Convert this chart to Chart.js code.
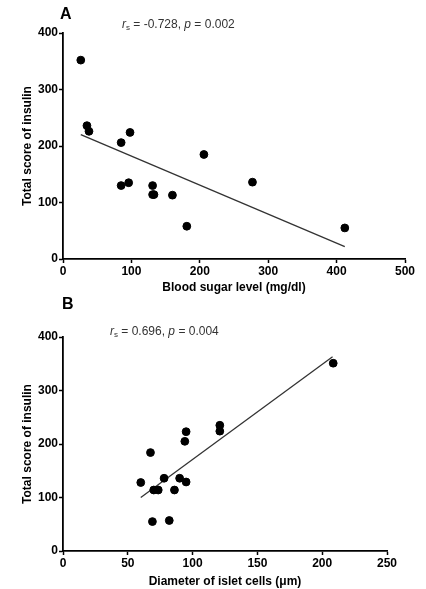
<!DOCTYPE html>
<html>
<head>
<meta charset="utf-8">
<script src="https://cdn.jsdelivr.net/npm/chart.js@4"></script>
<style>
  body { margin: 0; background: #fff; }
  .panel { position: absolute; left: 0; width: 426px; }
  #panelA { top: 0; height: 295px; }
  #panelB { top: 295px; height: 294px; }
</style>
</head>
<body>
<div class="panel" id="panelA"><canvas id="chartA"></canvas></div>
<div class="panel" id="panelB"><canvas id="chartB"></canvas></div>
<script>
// panel A: blood sugar vs insulin score
const sugarA = [26, 35, 38, 98, 85, 85, 96, 131, 131, 133, 160, 181, 206, 277, 412];
const insulinA = [352, 236, 226, 224, 206, 130, 135, 130, 114, 114, 113, 58, 185, 136, 55];
const fitAx = [26, 412];
const fitAy = [220, 22];

// panel B: islet diameter vs insulin score
const diamB = [60, 67.5, 70, 73.5, 78, 69, 82, 86, 90, 95, 94, 95, 121, 121, 208.5];
const insulinB = [128, 184, 114, 114, 136, 55, 57, 114, 136, 129, 205, 223, 235, 224, 351];
const fitBx = [60, 208];
const fitBy = [100, 363];

const FONT = '"Liberation Sans", Arial, sans-serif';

function toPoints(xs, ys) {
    return xs.map((x, i) => ({ x: x, y: ys[i] }));
}

// draws the panel letter and the r_s / p annotation
function labelPlugin(letter, lx, ly, rs, p, tx, ty) {
    return {
        id: 'labels' + letter,
        afterDraw(chart) {
            const ctx = chart.ctx;
            ctx.save();
            ctx.fillStyle = '#000';
            ctx.textBaseline = 'middle';
            ctx.font = 'bold 16px ' + FONT;
            ctx.fillText(letter, lx, ly);

            ctx.fillStyle = '#333';
            let x = tx;
            const parts = [
                ['italic 12px ', 'r', 0],
                ['8px ', 's', 3],
                ['12px ', ' = ' + rs + ', ', 0],
                ['italic 12px ', 'p', 0],
                ['12px ', ' = ' + p, 0]
            ];
            parts.forEach(part => {
                ctx.font = part[0] + FONT;
                ctx.fillText(part[1], x, ty + part[2]);
                x += ctx.measureText(part[1]).width;
            });
            ctx.restore();
        }
    };
}

function makeChart(id, xs, ys, fx, fy, xMax, xStep, xTitle, padRight, xAxisH, padTop, plugin) {
    const ctx = document.getElementById(id).getContext('2d');
    return new Chart(ctx, {
        type: 'scatter',
        data: {
            datasets: [
                {
                    data: toPoints(xs, ys),
                    backgroundColor: '#000',
                    borderColor: '#000',
                    pointRadius: 3.9,
                    pointHoverRadius: 3.9
                },
                {
                    type: 'line',
                    data: toPoints(fx, fy),
                    borderColor: '#333',
                    borderWidth: 1.3,
                    pointRadius: 0,
                    fill: false
                }
            ]
        },
        options: {
            responsive: true,
            maintainAspectRatio: false,
            animation: false,
            layout: { padding: { left: 0, right: padRight, top: padTop, bottom: 0 } },
            plugins: { legend: { display: false }, tooltip: { enabled: false } },
            scales: {
                x: {
                    type: 'linear',
                    min: 0,
                    max: xMax,
                    ticks: { stepSize: xStep, color: '#000', padding: 1, font: { family: FONT, size: 12, weight: 'bold' } },
                    grid: { drawOnChartArea: false, color: '#000', tickLength: 4, tickWidth: 1.5 },
                    border: { color: '#000', width: 1.8 },
                    title: { display: true, text: xTitle, color: '#000', padding: { top: 0, bottom: 0 }, font: { family: FONT, size: 12, weight: 'bold' } },
                    afterFit(scale) { scale.height = xAxisH; }
                },
                y: {
                    min: 0,
                    max: 400,
                    ticks: { stepSize: 100, color: '#000', padding: 1, font: { family: FONT, size: 12, weight: 'bold' } },
                    grid: { drawOnChartArea: false, color: '#000', tickLength: 4, tickWidth: 1.5 },
                    border: { color: '#000', width: 1.8 },
                    title: { display: true, text: 'Total score of insulin', color: '#000', padding: { top: 20, bottom: 0 }, font: { family: FONT, size: 12, weight: 'bold' } },
                    afterFit(scale) { scale.width = 63; }
                }
            }
        },
        plugins: [plugin]
    });
}

makeChart('chartA', sugarA, insulinA, fitAx, fitAy, 500, 100, 'Blood sugar level (mg/dl)', 21, 36, 33,
    labelPlugin('A', 60, 15, '-0.728', '0.002', 122, 25));
makeChart('chartB', diamB, insulinB, fitBx, fitBy, 250, 50, 'Diameter of islet cells (\u03bcm)', 39, 38, 42,
    labelPlugin('B', 62, 10, '0.696', '0.004', 110, 37));
</script>
</body>
</html>
